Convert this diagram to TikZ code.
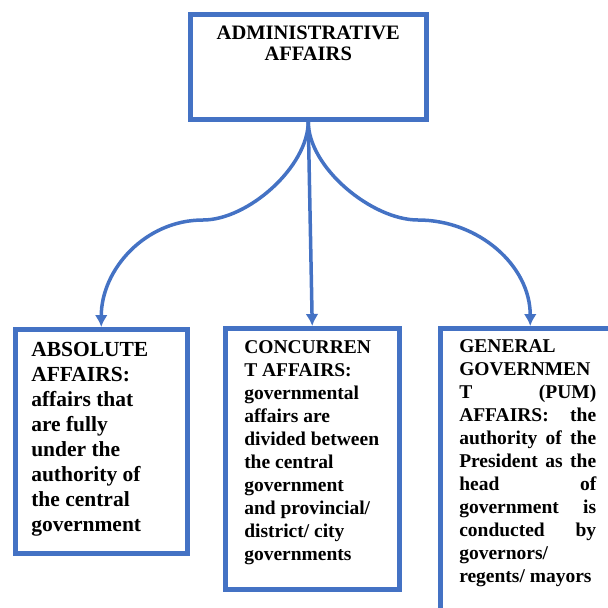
\documentclass[tikz,border=0pt]{standalone}
\usepackage{fontspec}
\setmainfont{Liberation Serif}
\usetikzlibrary{arrows.meta}
\definecolor{wordblue}{HTML}{4472C4}
\newcommand{\jline}[1]{\makebox[137pt][s]{#1}}
\tikzset{
  affbox/.style={draw=wordblue, line width=4.5pt, anchor=north west, font=\bfseries},
  link/.style={->, >={Latex[length=12pt,width=13pt]}, draw=wordblue, line width=3.5pt}
}
\begin{document}
\begin{tikzpicture}[x=1pt,y=-1pt]
  % page
  \path[use as bounding box, clip] (0,0) rectangle (608,608);
  % boxes
  \node[affbox, inner xsep=0pt, inner ysep=12pt] (admin) at (188,12)
    {\parbox[t][81pt][t]{236pt}{\fontsize{20.5}{21}\selectfont\centering ADMINISTRATIVE\\AFFAIRS}};
  \node[affbox, inner xsep=16pt, inner ysep=13pt] (absolute) at (13,327)
    {\parbox[t][198pt][t]{140pt}{\fontsize{21.5}{25}\selectfont\raggedright
      ABSOLUTE\\AFFAIRS:\\affairs that\\are fully\\under the\\authority of\\the central\\government}};
  \node[affbox, inner xsep=19pt, inner ysep=12pt] (concurrent) at (223,326)
    {\parbox[t][237pt][t]{136pt}{\fontsize{19.5}{23}\selectfont\raggedright
      CONCURREN\\T AFFAIRS:\\governmental\\affairs are\\divided between\\the central\\government\\and provincial/\\district/ city\\governments}};
  \node[affbox, inner xsep=19pt, inner ysep=11pt] (general) at (438,326)
    {\parbox[t][300pt][t]{142pt}{\fontsize{19.5}{23}\selectfont\raggedright
      GENERAL\\GOVERNMEN\\\jline{T\hfill(PUM)}\\\jline{AFFAIRS:\hfill the}\\\jline{authority of the}\\\jline{President as the}\\\jline{head\hfill of}\\\jline{government\hfill is}\\\jline{conducted\hfill by}\\governors/\\regents/ mayors}};
  % bends
  \coordinate (lbend) at (203,220);
  \coordinate (rbend) at (418,220);
  % arrows
  \draw[link] (admin.south) to[out=-90,in=0,looseness=0.8] (lbend) to[out=180,in=90] (absolute.north);
  \draw[link] (admin.south) -- (concurrent.north);
  \draw[link] (admin.south) to[out=-90,in=180,looseness=0.8] (rbend) to[out=0,in=90] (general.north);
\end{tikzpicture}
\end{document}
